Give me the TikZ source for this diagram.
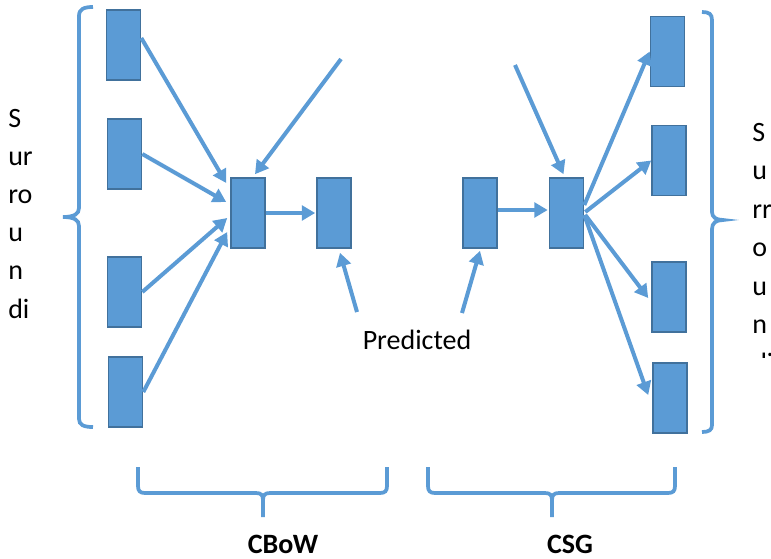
\documentclass[tikz,border=0pt]{standalone}
\usepackage{fontspec}
\setmainfont{Carlito}
\usetikzlibrary{arrows.meta,calc}
\definecolor{boxfill}{HTML}{5B9BD5}
\definecolor{boxedge}{HTML}{41719C}
\begin{document}
\begin{tikzpicture}[x=0.75pt,y=-0.75pt,
  vec/.style={draw=boxedge,fill=boxfill,line width=1.2pt,minimum width=25.5pt,minimum height=52.5pt,inner sep=0pt},
  arr/.style={draw=boxfill,line width=3pt,-{Triangle[length=10pt,width=11pt]}},
  brace/.style={draw=boxfill,line width=2.8pt},
  lbl/.style={font=\fontsize{21pt}{25pt}\selectfont,inner sep=0pt},
  blbl/.style={font=\fontsize{21pt}{25pt}\selectfont\bfseries,inner sep=0pt}]
\path[use as bounding box] (0,0) rectangle (771,558);
% boxes
\node[vec] (r1) at (123.5,45) {};
\node[vec] (r2) at (124.5,154) {};
\node[vec] (r3) at (124.5,292) {};
\node[vec] (r4) at (125.5,392) {};
\node[vec] (h) at (248,213) {};
\node[vec] (o) at (334,213) {};
\node[vec] (ci) at (480,213) {};
\node[vec] (ch) at (566.5,213) {};
\node[vec] (s1) at (667.5,51.5) {};
\node[vec] (s2) at (669,160.5) {};
\node[vec] (s3) at (669,297) {};
\node[vec] (s4) at (670,398) {};
% free ends
\coordinate (ltop) at (341,59);
\coordinate (rtop) at (515,65);
\coordinate (pl) at (357,312);
\coordinate (pr) at (462,313);
% CBoW arrows
\draw[arr] ($(r1.east)+(0,-7)$) -- ($(h.west)+(-4,-30)$);
\draw[arr] (r2.east) -- ($(h.west)+(-4,-11)$);
\draw[arr] (r3.east) -- ($(h.west)+(-3,5)$);
\draw[arr] (r4.east) -- ($(h.west)+(-3,19)$);
\draw[arr] (ltop) -- ($(h.north)+(7,-3)$);
\draw[arr] (h.east) -- ($(o.west)+(-1,0)$);
\draw[arr] (pl) -- ($(o.south)+(6,4)$);
% CSG arrows
\draw[arr] ($(ci.east)+(0,-3)$) -- ($(ch.west)+(-1,-3)$);
\draw[arr] (pr) -- ($(ci.south)+(0,2)$);
\draw[arr] (rtop) -- ($(ch.north)+(-3,-3)$);
\draw[arr] ($(ch.east)+(0,-8)$) -- ($(s1.west)+(0,0)$);
\draw[arr] ($(ch.east)+(1,-1)$) -- (s2.west);
\draw[arr] ($(ch.east)+(1,2)$) -- ($(s3.west)+(-3,1)$);
\draw[arr] ($(ch.east)+(0,2)$) -- ($(s4.west)+(-4,-3)$);
% braces
\draw[brace] (93,7) .. controls (84,7) and (79,9) .. (79,16) -- (79,208)
  .. controls (79,214) and (74,217) .. (63,217)
  .. controls (74,217) and (79,220) .. (79,226) -- (79,419)
  .. controls (79,425) and (84,427) .. (93,427);
\draw[brace] (702,12) .. controls (709,12) and (712,14) .. (712,20) -- (712,212)
  .. controls (712,217) and (716,220) .. (723,220)
  .. controls (716,220) and (712,223) .. (712,229) -- (712,425)
  .. controls (712,430) and (709,432) .. (702,432);
\draw[brace] (138,467) -- (138,486) .. controls (138,491) and (140,493) .. (145,493) -- (256,493)
  .. controls (261,493) and (263,495) .. (263,500) -- (263,517);
\draw[brace] (263,500) .. controls (263,495) and (265,493) .. (270,493) -- (380,493)
  .. controls (385,493) and (387,491) .. (387,486) -- (387,467);
\draw[brace] (428,467) -- (428,486) .. controls (428,491) and (430,493) .. (435,493) -- (545,493)
  .. controls (550,493) and (552,495) .. (552,500) -- (552,517);
\draw[brace] (552,500) .. controls (552,495) and (554,493) .. (559,493) -- (668,493)
  .. controls (673,493) and (675,491) .. (675,486) -- (675,467);
% labels
\node[lbl,anchor=base] (pred) at (417,349) {Predicted};
\node[blbl,anchor=base] (cbow) at (283,553) {CBoW};
\node[blbl,anchor=base] (csg) at (570,553) {CSG};
\node[lbl,anchor=base west] (l1) at (8,127) {S};
\node[lbl,anchor=base west] (l2) at (8,165.2) {ur};
\node[lbl,anchor=base west] (l3) at (8,203.4) {ro};
\node[lbl,anchor=base west] (l4) at (8,241.6) {u};
\node[lbl,anchor=base west] (l5) at (8,279.8) {n};
\node[lbl,anchor=base west] (l6) at (8,318) {di};
\begin{scope}
\clip (740,100) rectangle (771,357);
\node[lbl,anchor=base west] (m1) at (752,141) {S};
\node[lbl,anchor=base west] (m2) at (752,179.5) {u};
\node[lbl,anchor=base west] (m3) at (752,218) {rr};
\node[lbl,anchor=base west] (m4) at (752,256.5) {o};
\node[lbl,anchor=base west] (m5) at (752,295) {u};
\node[lbl,anchor=base west] (m6) at (752,333.5) {n};
\node[lbl,anchor=base west] (m7) at (752,372) {di};
\end{scope}
\end{tikzpicture}
\end{document}
